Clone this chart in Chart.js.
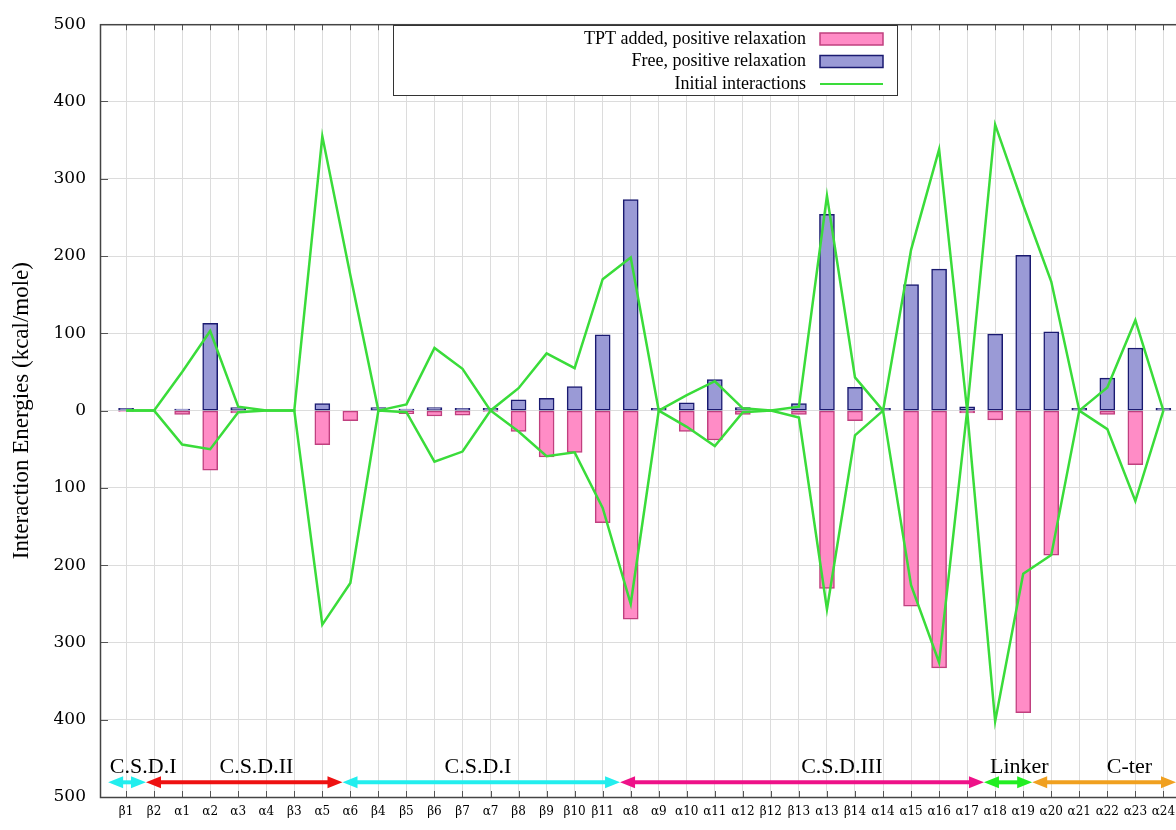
<!DOCTYPE html>
<html>
<head>
<meta charset="utf-8">
<script src="https://cdn.jsdelivr.net/npm/chart.js@4.4.0/dist/chart.umd.min.js"></script>
<style>
  body { margin: 0; background: #fff; }
  canvas { display: block; }
</style>
</head>
<body>
<canvas id="chart" width="1176" height="830"></canvas>
<script>
const categories = ['β1','β2','α1','α2','α3','α4','β3','α5','α6','β4','β5','β6','β7','α7','β8','β9','β10','β11','α8',
  'α9','α10','α11','α12','β12','β13','α13','β14','α14','α15','α16','α17','α18','α19','α20','α21','α22','α23','α24'];

const tptAdded = [-1, 0, -5, -77, -3, 0, 0, -44, -13, 0, -4, -7, -6, -1, -27, -60, -54, -145, -270,
  0, -27, -38, -5, 0, -5, -230, -13, 0, -253, -333, -3, -12, -391, -187, 0, -5, -70, 0];
const freeRelax = [3, 0, 2, 113, 4, 0, 0, 9, 0, 4, 2, 4, 3, 3, 14, 16, 31, 98, 273,
  3, 10, 40, 4, 0, 9, 254, 30, 3, 163, 183, 5, 99, 201, 102, 3, 42, 81, 3];
const initialUpper = [0, 0, 50, 103, 5, 0, 0, 355, 175, 0, 8, 81, 54, 0, 29, 74, 55, 170, 198,
  0, 20, 38, 3, 0, 5, 278, 43, 0, 208, 338, 0, 370, 266, 167, 0, 30, 117, 0];
const initialLower = [0, 0, -44, -50, -2, 0, 0, -277, -223, 0, -2, -66, -53, 0, -27, -59, -54, -126, -250,
  0, -21, -46, -2, 0, -9, -257, -32, 0, -226, -326, 0, -402, -211, -187, 0, -24, -117, 0];

const yTicks = [-500, -400, -300, -200, -100, 0, 100, 200, 300, 400, 500];

const regionNames = ['C.S.D.I', 'C.S.D.II', 'C.S.D.I', 'C.S.D.III', 'Linker', 'C-ter'];
const regionStart = [-0.64, 0.71, 7.72, 17.62, 30.6, 32.32];
const regionEnd = [0.71, 7.72, 17.62, 30.6, 32.32, 37.45];
const regionLabelX = [0.61, 4.65, 12.55, 25.53, 31.86, 35.79];
const regionColors = ['#22eeee', '#ee1111', '#22eeee', '#ee1188', '#22ee22', '#f0a020'];

const legendLabels = ['TPT added, positive relaxation', 'Free, positive relaxation', 'Initial interactions'];

const pinkFill = '#ff8cc6', pinkLine = '#c0407f';
const blueFill = '#9a9ad6', blueLine = '#1a1a70';
const green = '#3adc3a';

const toPoints = vals => vals.map((v, i) => ({ x: i, y: v }));

const frame = {
  id: 'frame',
  afterDraw(chart) {
    const { ctx, chartArea: a, scales } = chart;
    ctx.save();
    // inner tick marks
    ctx.strokeStyle = '#555';
    ctx.lineWidth = 1;
    ctx.beginPath();
    yTicks.forEach(v => {
      const y = Math.round(scales.y.getPixelForValue(v)) + 0.5;
      ctx.moveTo(a.left, y); ctx.lineTo(a.left + 8, y);
    });
    categories.forEach((c, i) => {
      const x = Math.round(scales.x.getPixelForValue(i)) + 0.5;
      ctx.moveTo(x, a.bottom); ctx.lineTo(x, a.bottom - 6);
      ctx.moveTo(x, a.top); ctx.lineTo(x, a.top + 6);
    });
    ctx.stroke();
    ctx.strokeStyle = '#444';
    ctx.lineWidth = 1.5;
    ctx.strokeRect(a.left + 0.5, a.top + 0.5, a.right - a.left + 5, a.bottom - a.top);

    // region arrows
    const ay = scales.y.getPixelForValue(-481);
    const ly = scales.y.getPixelForValue(-462);
    regionNames.forEach((name, i) => {
      const x1 = scales.x.getPixelForValue(regionStart[i]);
      const x2 = scales.x.getPixelForValue(regionEnd[i]);
      ctx.strokeStyle = regionColors[i];
      ctx.fillStyle = regionColors[i];
      ctx.lineWidth = 4;
      ctx.beginPath();
      ctx.moveTo(x1 + 10, ay); ctx.lineTo(x2 - 10, ay);
      ctx.stroke();
      ctx.beginPath();
      ctx.moveTo(x1, ay); ctx.lineTo(x1 + 15, ay - 6); ctx.lineTo(x1 + 15, ay + 6); ctx.closePath();
      ctx.moveTo(x2, ay); ctx.lineTo(x2 - 15, ay - 6); ctx.lineTo(x2 - 15, ay + 6); ctx.closePath();
      ctx.fill();
      ctx.fillStyle = '#000';
      ctx.font = '22px "Liberation Serif"';
      ctx.textAlign = 'center';
      ctx.textBaseline = 'middle';
      ctx.fillText(name, scales.x.getPixelForValue(regionLabelX[i]), ly);
    });

    // legend box
    const bx = 393, by = 25, bw = 504, bh = 70;
    ctx.fillStyle = '#fff';
    ctx.fillRect(bx, by, bw, bh);
    ctx.strokeStyle = '#333';
    ctx.lineWidth = 1;
    ctx.strokeRect(bx + 0.5, by + 0.5, bw, bh);
    ctx.font = '18px "Liberation Serif"';
    ctx.textAlign = 'right';
    ctx.textBaseline = 'middle';
    legendLabels.forEach((t, i) => {
      const y = by + 14 + i * 22.5;
      ctx.fillStyle = '#000';
      ctx.fillText(t, bx + 413, y);
      const sx = bx + 427, sw = 63;
      if (i < 2) {
        ctx.fillStyle = i === 0 ? pinkFill : blueFill;
        ctx.fillRect(sx, y - 6, sw, 12);
        ctx.strokeStyle = i === 0 ? pinkLine : blueLine;
        ctx.lineWidth = 1.5;
        ctx.strokeRect(sx, y - 6, sw, 12);
      } else {
        ctx.strokeStyle = green;
        ctx.lineWidth = 2;
        ctx.beginPath(); ctx.moveTo(sx, y); ctx.lineTo(sx + sw, y); ctx.stroke();
      }
    });
    ctx.restore();
  }
};

new Chart(document.getElementById('chart'), {
  type: 'bar',
  data: {
    datasets: [
      {
        type: 'line', label: legendLabels[2], data: toPoints(initialUpper),
        borderColor: green, borderWidth: 2.5, pointRadius: 0, tension: 0, order: 0
      },
      {
        type: 'line', label: legendLabels[2], data: toPoints(initialLower),
        borderColor: green, borderWidth: 2.5, pointRadius: 0, tension: 0, order: 0
      },
      {
        label: legendLabels[1], data: toPoints(freeRelax),
        backgroundColor: blueFill, borderColor: blueLine, borderWidth: 1.5,
        borderSkipped: false, barThickness: 15, grouped: false, order: 1
      },
      {
        label: legendLabels[0], data: toPoints(tptAdded),
        backgroundColor: pinkFill, borderColor: pinkLine, borderWidth: 1.5,
        borderSkipped: false, barThickness: 15, grouped: false, order: 2
      }
    ]
  },
  options: {
    responsive: false,
    animation: false,
    layout: { padding: { top: 18, right: 0, left: 0, bottom: 0 } },
    plugins: { legend: { display: false }, tooltip: { enabled: false } },
    scales: {
      x: {
        type: 'linear',
        offset: false,
        min: -0.93,
        max: 37.45,
        afterBuildTicks: axis => { axis.ticks = categories.map((c, i) => ({ value: i })); },
        afterFit: axis => { axis.height = 33; axis.paddingRight = 0; axis.paddingLeft = 0; },
        grid: { color: '#dcdcdc', drawTicks: false, offset: false },
        border: { display: false },
        ticks: {
          autoSkip: false, maxRotation: 0, padding: 8,
          font: { family: 'DejaVu Serif', size: 12 }, color: '#000',
          callback: v => categories[v]
        }
      },
      y: {
        min: -500,
        max: 500,
        afterBuildTicks: axis => { axis.ticks = yTicks.map(v => ({ value: v })); },
        afterFit: axis => { axis.width = 100; },
        grid: { color: '#dcdcdc', drawTicks: false },
        border: { display: false },
        title: {
          display: true, text: 'Interaction Energies (kcal/mole)',
          font: { family: 'Liberation Serif', size: 23 }, color: '#000', padding: { top: 8, bottom: 0 }
        },
        ticks: {
          padding: 14,
          font: { family: 'DejaVu Serif', size: 17 }, color: '#000',
          callback: v => Math.abs(v)
        }
      }
    }
  },
  plugins: [frame]
});
</script>
</body>
</html>
